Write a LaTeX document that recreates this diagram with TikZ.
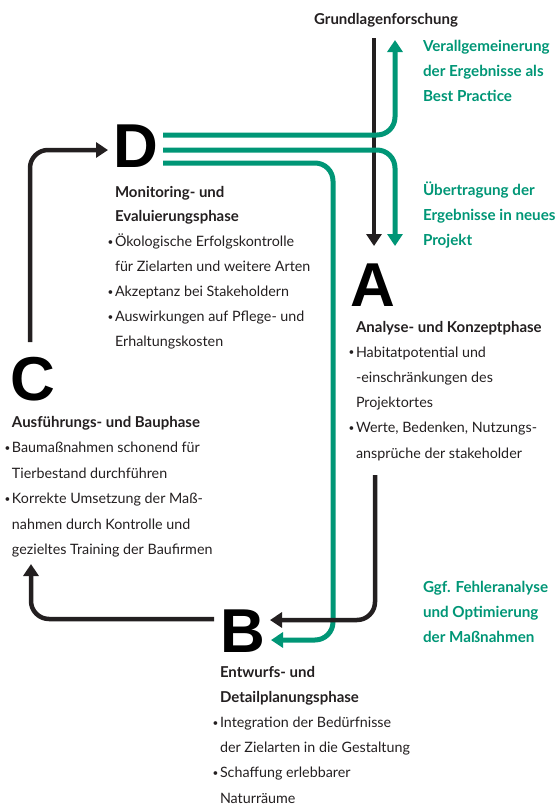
\documentclass[tikz,border=0pt]{standalone}
\usepackage{fontspec}
\setmainfont{Lato}
\newfontfamily\bigfont{Liberation Sans}
\usetikzlibrary{arrows.meta}
\definecolor{grn}{RGB}{0,150,118}
\definecolor{blk}{RGB}{35,31,32}
\newcommand{\bul}{\llap{\raisebox{1.4pt}{\fontsize{10}{10}\selectfont •}\hspace{1.5pt}}}
\begin{document}
\begin{tikzpicture}[x=1pt,y=-1pt,
  txt/.style={anchor=base west, inner sep=0pt, outer sep=0pt, font=\fontsize{14.3}{16}\selectfont, text=blk},
  hd/.style={txt, font=\fontsize{15}{16}\selectfont\bfseries},
  gtxt/.style={txt, font=\fontsize{15.2}{16}\selectfont\bfseries, text=grn},
  letter/.style={anchor=base west, inner sep=0pt, outer sep=0pt, font=\bigfont\bfseries\fontsize{62}{62}\selectfont, text=black},
  blkline/.style={draw=blk, line width=4.5pt, rounded corners=18pt, -{Triangle[length=12pt,width=15pt]}},
  grnline/.style={draw=grn, line width=5pt, rounded corners=18pt, -{Triangle[length=12pt,width=15pt]}}
]
\useasboundingbox (0,0) rectangle (558,807);

% big letters
\node[letter] (D) at (113,167) {D};
\node[letter] (A) at (350,306) {A};
\node[letter] (B) at (220,652) {B};
\node[letter] (C) at (10,400) {C};

% top label
\node[hd, anchor=base] (G) at (386,24) {Grundlagenforschung};

% green labels
\node[gtxt] (g1) at (423,51) {Verallgemeinerung};
\node[gtxt] (g2) at (423,76) {der Ergebnisse als};
\node[gtxt] (g3) at (423,101) {Best Practice};
\node[gtxt] (u1) at (423,195) {Übertragung der};
\node[gtxt] (u2) at (423,220) {Ergebnisse in neues};
\node[gtxt] (u3) at (423,245) {Projekt};
\node[gtxt] (f1) at (423,592) {Ggf. Fehleranalyse};
\node[gtxt] (f2) at (423,617) {und Optimierung};
\node[gtxt] (f3) at (423,642) {der Maßnahmen};

% D block
\node[hd]  (d1) at (115,197) {Monitoring- und};
\node[hd]  (d2) at (115,221.5) {Evaluierungsphase};
\node[txt] (d3) at (115,246.5) {\bul Ökologische Erfolgskontrolle};
\node[txt] (d4) at (115,271.5) {für Zielarten und weitere Arten};
\node[txt] (d5) at (115,296.5) {\bul Akzeptanz bei Stakeholdern};
\node[txt] (d6) at (115,321.5) {\bul Auswirkungen auf Pflege- und};
\node[txt] (d7) at (115,346.5) {Erhaltungskosten};

% A block
\node[hd]  (a1) at (356,332) {Analyse- und Konzeptphase};
\node[txt] (a2) at (356,357.2) {\bul Habitatpotential und};
\node[txt] (a3) at (356,382.4) {-einschränkungen des};
\node[txt] (a4) at (356,407.6) {Projektortes};
\node[txt] (a5) at (356,432.8) {\bul Werte, Bedenken, Nutzungs-};
\node[txt] (a6) at (356,458) {ansprüche der stakeholder};

% C block
\node[hd]  (c1) at (12,427) {Ausführungs- und Bauphase};
\node[txt] (c2) at (12,452.5) {\bul Baumaßnahmen schonend für};
\node[txt] (c3) at (12,478) {Tierbestand durchführen};
\node[txt] (c4) at (12,503.5) {\bul Korrekte Umsetzung der Maß-};
\node[txt] (c5) at (12,529) {nahmen durch Kontrolle und};
\node[txt] (c6) at (12,554.5) {gezieltes Training der Baufirmen};

% B block
\node[hd]  (b1) at (220,677) {Entwurfs- und};
\node[hd]  (b2) at (220,702.2) {Detailplanungsphase};
\node[txt] (b3) at (220,727.4) {\bul Integration der Bedürfnisse};
\node[txt] (b4) at (220,752.6) {der Zielarten in die Gestaltung};
\node[txt] (b5) at (220,777.8) {\bul Schaffung erlebbarer};
\node[txt] (b6) at (220,803) {Naturräume};

% connector end points
\coordinate (Gs) at (374,38);
\coordinate (Ae) at (374,246);
\coordinate (Dg1) at (163,135);
\coordinate (Gu) at (395,40);
\coordinate (Dg2) at (163,150);
\coordinate (Ag) at (395,246);
\coordinate (Dg3) at (163,163);
\coordinate (Bg) at (271,640);
\coordinate (As) at (375,475);
\coordinate (Bb) at (270,620);
\coordinate (Cs) at (30,342);
\coordinate (Dc) at (108,150);
\coordinate (Bs) at (214,619);
\coordinate (Cc) at (31,564);

% connectors
\draw[blkline] (Gs) -- (Ae);
\draw[grnline] (Dg1) -| (Gu);
\draw[grnline] (Dg2) -| (Ag);
\draw[grnline] (Dg3) -| (333,640) -- (Bg);
\draw[blkline] (As) |- (Bb);
\draw[blkline] (Cs) |- (Dc);
\draw[blkline] (Bs) -| (Cc);
\end{tikzpicture}
\end{document}
